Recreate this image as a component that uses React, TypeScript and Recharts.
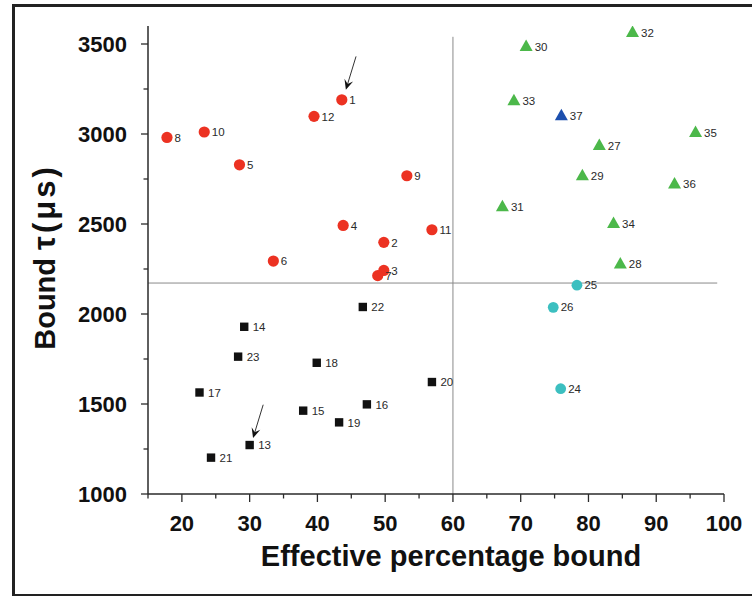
import React from "react";
import {
  ScatterChart, Scatter, XAxis, YAxis, ReferenceLine, Label,
} from "recharts";

// red circles, 1-12
const redIds = [1, 2, 3, 4, 5, 6, 7, 8, 9, 10, 11, 12];
const redX = [43.6, 49.8, 49.8, 43.8, 28.5, 33.5, 48.9, 17.8, 53.2, 23.3, 56.9, 39.5];
const redY = [3190, 2398, 2242, 2492, 2829, 2294, 2213, 2981, 2768, 3011, 2468, 3098];

// black squares, 13-23
const blackIds = [13, 14, 15, 16, 17, 18, 19, 20, 21, 22, 23];
const blackX = [30.0, 29.2, 37.9, 47.3, 22.6, 39.9, 43.2, 56.9, 24.3, 46.7, 28.3];
const blackY = [1272, 1929, 1463, 1498, 1564, 1729, 1398, 1622, 1202, 2039, 1763];

// cyan circles, 24-26
const cyanIds = [24, 25, 26];
const cyanX = [75.9, 78.3, 74.8];
const cyanY = [1585, 2160, 2037];

// green triangles, 27-36
const greenIds = [27, 28, 29, 30, 31, 32, 33, 34, 35, 36];
const greenX = [81.6, 84.7, 79.1, 70.8, 67.3, 86.5, 69.0, 83.7, 95.8, 92.7];
const greenY = [2941, 2283, 2774, 3492, 2602, 3570, 3190, 2509, 3014, 2728];

// blue triangle, 37
const blueIds = [37];
const blueX = [76.0];
const blueY = [3107];

const xTicks = [15, 20, 25, 30, 35, 40, 45, 50, 55, 60, 65, 70, 75, 80, 85, 90, 95, 100];
const yTicks = [1000, 1250, 1500, 1750, 2000, 2250, 2500, 2750, 3000, 3250, 3500];

const xCut = 60;
const yCut = 2172;

// arrows: [x0, y0, x1, y1], tip at the second point
const arrowA = [45.7, 3431, 44.2, 3246];
const arrowB = [32.0, 1496, 30.5, 1311];

const build = (ids: number[], xs: number[], ys: number[]) =>
  ids.map((id, i) => ({ id, x: xs[i], y: ys[i] }));

const FONT = "'Liberation Sans', Arial, sans-serif";
const AXIS = "#2a2a2a";

const tag = (cx: number, cy: number, id: number) => (
  <text x={cx + 7.5} y={cy} dy="0.36em" fontSize={11.5} fontFamily={FONT} fill="#2a2a2a">{id}</text>
);

const dot = (color: string, r: number) => (p: any) => (
  <g>
    <circle cx={p.cx} cy={p.cy} r={r} fill={color} />
    {tag(p.cx, p.cy, p.payload.id)}
  </g>
);

const square = (p: any) => (
  <g>
    <rect x={p.cx - 4.2} y={p.cy - 4.2} width={8.4} height={8.4} fill="#111" />
    {tag(p.cx + 1, p.cy, p.payload.id)}
  </g>
);

const tri = (color: string) => (p: any) => (
  <g>
    <polygon points={`${p.cx},${p.cy - 6} ${p.cx + 6.5},${p.cy + 5.5} ${p.cx - 6.5},${p.cy + 5.5}`} fill={color} />
    {tag(p.cx + 1, p.cy + 1, p.payload.id)}
  </g>
);

const XTick = ({ x, y, payload }: any) => {
  const major = payload.value % 10 === 0;
  return (
    <g>
      <line x1={x} y1={y} x2={x} y2={y + (major ? 8 : 4.5)} stroke={AXIS} strokeWidth={1.3} />
      {major && (
        <text x={x} y={y + 37} textAnchor="middle" fontSize={22} fontWeight="bold" fontFamily={FONT} fill="#111">
          {payload.value}
        </text>
      )}
    </g>
  );
};

const YTick = ({ x, y, payload }: any) => {
  const major = payload.value % 500 === 0;
  return (
    <g>
      <line x1={x} y1={y} x2={x - (major ? 7 : 4.5)} y2={y} stroke={AXIS} strokeWidth={1.3} />
      {major && (
        <text x={x - 21} y={y} dy="0.36em" textAnchor="end" fontSize={22} fontWeight="bold" fontFamily={FONT} fill="#111">
          {payload.value}
        </text>
      )}
    </g>
  );
};

const arrowShape = (p: any) => {
  const { x1, y1, x2, y2 } = p;
  const a = Math.atan2(y2 - y1, x2 - x1);
  const L = 10, W = 4.5, N = 6;
  const bx = x2 - L * Math.cos(a), by = y2 - L * Math.sin(a);
  const nx = x2 - N * Math.cos(a), ny = y2 - N * Math.sin(a);
  const px = -Math.sin(a) * W, py = Math.cos(a) * W;
  return (
    <g>
      <line x1={x1} y1={y1} x2={nx} y2={ny} stroke="#333" strokeWidth={1} />
      <polygon points={`${x2},${y2} ${bx + px},${by + py} ${nx},${ny} ${bx - px},${by - py}`} fill="#111" />
    </g>
  );
};

export default function App() {
  return (
    <div style={{ position: "fixed", left: 0, top: 0, width: 752, height: 596, background: "#fff", overflow: "hidden" }}>
      <div style={{
        position: "absolute", left: 12, top: 4, width: 780, height: 587,
        borderLeft: "3px solid #222", borderTop: "3px solid #222", borderBottom: "3px solid #222",
      }} />
      <div style={{ position: "absolute", left: 0, top: 0 }}>
        <ScatterChart width={752} height={596} margin={{ top: 26, right: 28, bottom: 72, left: 88 }}>
          <XAxis
            type="number" dataKey="x" domain={[15, 100]} ticks={xTicks} interval={0}
            height={30} tickSize={0} tickMargin={0} tick={<XTick />}
            axisLine={{ stroke: AXIS, strokeWidth: 1.5 }} allowDataOverflow
          >
            <Label content={() => (
              <text x={451} y={566} textAnchor="middle" fontSize={29} fontWeight="bold" fontFamily={FONT} fill="#111">
                Effective percentage bound
              </text>
            )} />
          </XAxis>
          <YAxis
            type="number" dataKey="y" domain={[1000, 3600]} ticks={yTicks} interval={0}
            width={60} tickSize={0} tickMargin={0} tick={<YTick />}
            axisLine={{ stroke: AXIS, strokeWidth: 1.5 }} allowDataOverflow
          >
            <Label content={() => (
              <text x={55} y={257} transform="rotate(-90 55 257)" textAnchor="middle" fontSize={29} fontWeight="bold" fontFamily={FONT} fill="#111">
                <tspan>Bound </tspan>
                <tspan fontSize={31} letterSpacing={3}>τ(μs)</tspan>
              </text>
            )} />
          </YAxis>
          <ReferenceLine segment={[{ x: xCut, y: 1000 }, { x: xCut, y: 3540 }]} stroke="#8a8a8a" strokeWidth={1} />
          <ReferenceLine segment={[{ x: 15, y: yCut }, { x: 99, y: yCut }]} stroke="#8a8a8a" strokeWidth={1} />
          <ReferenceLine segment={[{ x: arrowA[0], y: arrowA[1] }, { x: arrowA[2], y: arrowA[3] }]} shape={arrowShape} />
          <ReferenceLine segment={[{ x: arrowB[0], y: arrowB[1] }, { x: arrowB[2], y: arrowB[3] }]} shape={arrowShape} />
          <Scatter data={build(blackIds, blackX, blackY)} shape={square} isAnimationActive={false} />
          <Scatter data={build(cyanIds, cyanX, cyanY)} shape={dot("#3cbfc0", 5.4)} isAnimationActive={false} />
          <Scatter data={build(greenIds, greenX, greenY)} shape={tri("#4cb84a")} isAnimationActive={false} />
          <Scatter data={build(blueIds, blueX, blueY)} shape={tri("#1c4fae")} isAnimationActive={false} />
          <Scatter data={build(redIds, redX, redY)} shape={dot("#ec3222", 5.6)} isAnimationActive={false} />
        </ScatterChart>
      </div>
    </div>
  );
}
